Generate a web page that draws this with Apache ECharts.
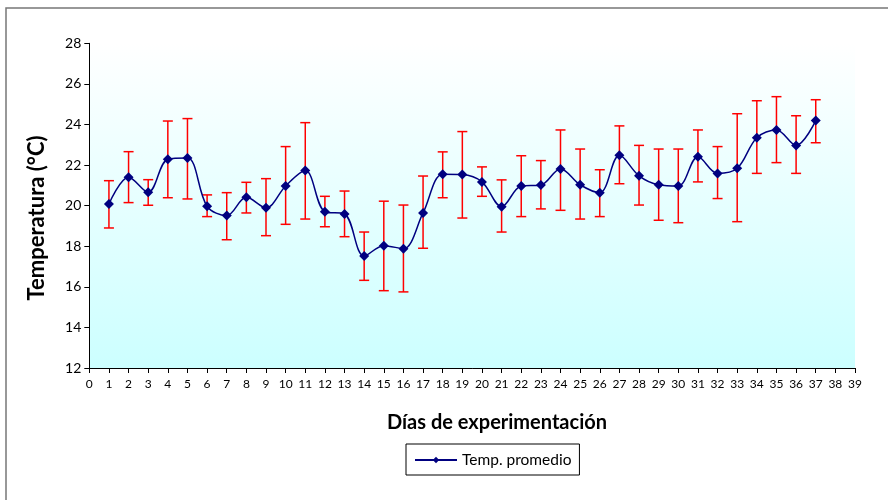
<!DOCTYPE html>
<html>
<head>
<meta charset="utf-8">
<script src="https://cdn.jsdelivr.net/npm/echarts@6/dist/echarts.min.js"></script>
<style>html,body{margin:0;padding:0;background:#fff;}#c{width:888px;height:500px;}</style>
</head>
<body>
<div id="c"></div>
<script>
var days = [1,2,3,4,5,6,7,8,9,10,11,12,13,14,15,16,17,18,19,20,21,22,23,24,25,26,27,28,29,30,31,32,33,34,35,36,37];
var tempMean = [20.08,21.40,20.66,22.29,22.35,19.97,19.51,20.41,19.90,20.97,21.73,19.70,19.59,17.52,18.03,17.88,19.64,21.55,21.53,21.17,19.95,20.97,21.02,21.81,21.03,20.64,22.48,21.47,21.03,20.97,22.41,21.59,21.84,23.35,23.73,22.97,24.19];
var errHigh = [21.23,22.66,21.28,24.17,24.29,20.53,20.64,21.15,21.33,22.91,24.09,20.46,20.72,18.70,20.22,20.03,21.46,22.65,23.65,21.91,21.27,22.46,22.22,23.73,22.79,21.77,23.93,22.97,22.79,22.79,23.73,22.91,24.53,25.17,25.37,24.43,25.22];
var errLow = [18.90,20.15,20.02,20.39,20.33,19.46,18.32,19.64,18.52,19.08,19.34,18.96,18.47,16.32,15.81,15.75,17.90,20.39,19.39,20.46,18.70,19.46,19.84,19.77,19.34,19.46,21.08,20.03,19.28,19.16,21.17,20.35,19.21,21.59,22.12,21.59,23.10];
var seriesName = 'Temp. promedio';
var xTitle = 'Días de experimentación';
var yTitle = 'Temperatura (°C)';

var FONT = 'Lato, "Open Sans", sans-serif';
var lineData = days.map(function(d,i){return [d, tempMean[i]];});
var errData = days.map(function(d,i){return [d, errLow[i], errHigh[i]];});

var chart = echarts.init(document.getElementById('c'), null, {renderer:'canvas'});
chart.setOption({
  animation:false,
  backgroundColor:'#fff',
  textStyle:{fontFamily:FONT},
  grid:{left:89.3, right:33, top:43.3, bottom:132, show:true, borderWidth:0,
    backgroundColor:{type:'linear',x:0,y:0,x2:0,y2:1,colorStops:[{offset:0,color:'#ffffff'},{offset:1,color:'#ccffff'}]}},
  xAxis:{type:'value', min:0, max:39, interval:1,
    axisLine:{show:true, onZero:false, lineStyle:{color:'#000', width:1}},
    axisTick:{show:true, inside:false, length:5, lineStyle:{color:'#000'}},
    axisLabel:{color:'#000', fontSize:12, margin:10, fontFamily:FONT},
    splitLine:{show:false}},
  yAxis:{type:'value', min:12, max:28, interval:2,
    axisLine:{show:true, lineStyle:{color:'#000', width:1}},
    axisTick:{show:true, inside:false, length:5, lineStyle:{color:'#000'}},
    axisLabel:{color:'#000', fontSize:14, margin:8, fontFamily:FONT},
    splitLine:{show:false}},
  legend:{show:true, left:406, top:444, orient:'horizontal',
    borderColor:'#000', borderWidth:1, padding:[8,8,7,8], itemWidth:42, itemHeight:8, itemGap:5,
    textStyle:{color:'#000', fontSize:15.5, fontFamily:FONT},
    data:[seriesName]},
  graphic:[
    {type:'rect', silent:true, z:-1, shape:{x:6, y:8, width:920, height:540}, style:{fill:null, stroke:'#777', lineWidth:1.5}},
    {type:'text', x:497, y:413, style:{text:xTitle, fill:'#000', font:'bold 20px '+FONT, align:'center'}},
    {type:'text', rotation:Math.PI/2, x:26, y:218, style:{text:yTitle, fill:'#000', font:'bold 22px '+FONT, align:'center'}}
  ],
  series:[
    {type:'custom', name:'err', renderItem:function(params, api){
        var x = api.value(0);
        var lo = api.coord([x, api.value(1)]);
        var hi = api.coord([x, api.value(2)]);
        var hw = 5;
        var st = {stroke:'#ff0000', lineWidth:1.5};
        return {type:'group', children:[
          {type:'line', shape:{x1:lo[0], y1:lo[1], x2:hi[0], y2:hi[1]}, style:st},
          {type:'line', shape:{x1:lo[0]-hw, y1:lo[1], x2:lo[0]+hw, y2:lo[1]}, style:st},
          {type:'line', shape:{x1:hi[0]-hw, y1:hi[1], x2:hi[0]+hw, y2:hi[1]}, style:st}
        ]};
      }, encode:{x:0, y:[1,2]}, data:errData, z:1, silent:true},
    {type:'line', name:seriesName, data:lineData, smooth:0.35, symbol:'diamond', symbolSize:10,
      lineStyle:{color:'#000080', width:1.5}, itemStyle:{color:'#000080'}, z:3}
  ]
});
</script>
</body>
</html>
